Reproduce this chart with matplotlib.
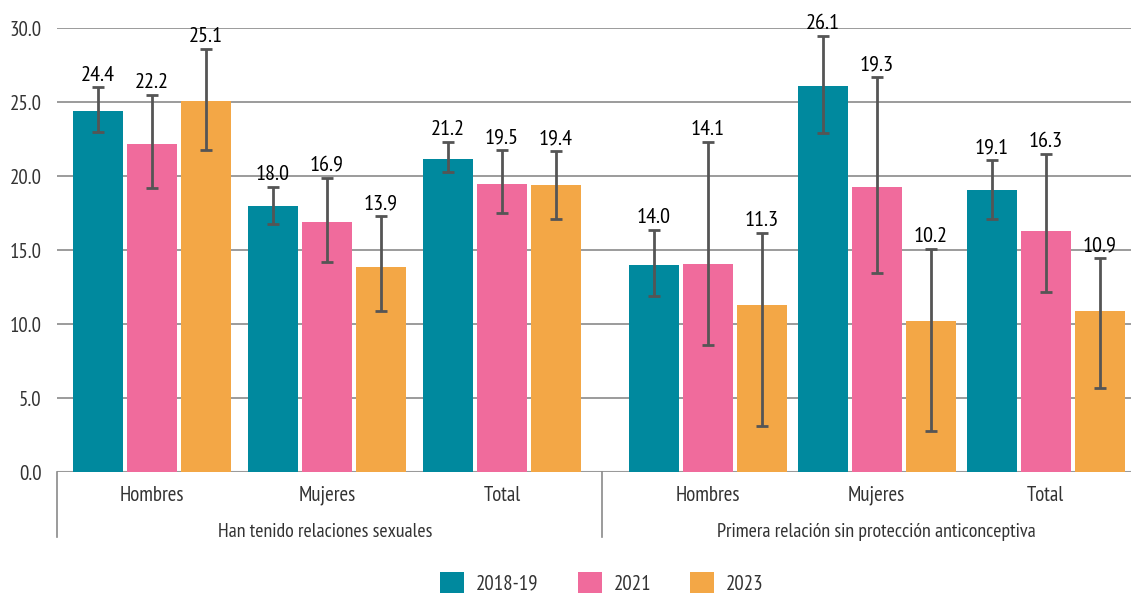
import matplotlib
matplotlib.use("Agg")
import matplotlib.pyplot as plt
from matplotlib.lines import Line2D
from matplotlib.patches import Patch
import numpy as np

# ---------------- data ----------------
categories = ["Hombres", "Mujeres", "Total"]
groups = ["Han tenido relaciones sexuales",
          "Primera relación sin protección anticonceptiva"]
series = ["2018-19", "2021", "2023"]

values_2018 = [24.4, 18.0, 21.2, 14.0, 26.1, 19.1]
values_2021 = [22.2, 16.9, 19.5, 14.1, 19.3, 16.3]
values_2023 = [25.1, 13.9, 19.4, 11.3, 10.2, 10.9]

low_2018 = [23.0, 16.8, 20.3, 11.9, 22.9, 17.1]
high_2018 = [26.0, 19.3, 22.3, 16.4, 29.5, 21.1]
low_2021 = [19.2, 14.2, 17.5, 8.6, 13.5, 12.2]
high_2021 = [25.5, 19.9, 21.8, 22.3, 26.7, 21.5]
low_2023 = [21.8, 10.9, 17.1, 3.1, 2.8, 5.7]
high_2023 = [28.6, 17.3, 21.7, 16.2, 15.1, 14.5]

y_ticks = [0, 5, 10, 15, 20, 25, 30]

# ---------------- style ----------------
colors = ["#00899E", "#F06B9C", "#F3A746"]
err_color = "#555555"
plt.rcParams["font.family"] = ["PT Sans Narrow", "DejaVu Sans"]

W, H = 1131, 594
fig = plt.figure(figsize=(W / 100, H / 100), dpi=100)
ax_left, ax_right, ax_top, ax_bottom = 57, 1131, 28.3, 472.3
ax = fig.add_axes([ax_left / W, 1 - ax_bottom / H,
                   (ax_right - ax_left) / W, (ax_bottom - ax_top) / H])

# layout (pixel-like x units)
group_start = [152, 707.5]
group_step = [175, 169]
bar_offset = 54
bar_width = 50

centers = []
for g in range(len(groups)):
    for c in range(len(categories)):
        centers.append(group_start[g] + c * group_step[g])
centers = np.array(centers)

vals = [values_2018, values_2021, values_2023]
lows = [low_2018, low_2021, low_2023]
highs = [high_2018, high_2021, high_2023]

for s in range(len(series)):
    x = centers + (s - 1) * bar_offset
    v = np.array(vals[s])
    lo = np.array(lows[s])
    hi = np.array(highs[s])
    ax.bar(x, v, width=bar_width, color=colors[s], zorder=2)
    ax.errorbar(x, v, yerr=[v - lo, hi - v], fmt="none", ecolor=err_color,
                elinewidth=2, capsize=4.5, capthick=2, zorder=3)
    for xi, vi, hii in zip(x, v, hi):
        ax.annotate(f"{vi:.1f}", (xi, hii), xytext=(0, 2),
                    textcoords="offset points", ha="center", va="bottom",
                    fontsize=16, color="#000000")

ax.set_xlim(ax_left, ax_right)
ax.set_ylim(0, 30)
ax.set_yticks(y_ticks)
ax.set_yticklabels([f"{t:.1f}" for t in y_ticks])
ax.set_xticks([])
ax.tick_params(axis="y", length=0, pad=11, labelsize=15, labelcolor="#333333")
for sp in ax.spines.values():
    sp.set_visible(False)
ax.yaxis.grid(True, color="#8a8a8a", linewidth=1.2, zorder=0)
ax.set_axisbelow(True)
ax.axhline(0, color="#9a9a9a", linewidth=1.5, zorder=1)

# category labels
for i, cx in enumerate(centers):
    ax.annotate(categories[i % 3], (cx, 0), xycoords=("data", "axes fraction"),
                xytext=(0, -16.5), textcoords="offset points", ha="center",
                va="center", fontsize=15, color="#333333")

# group labels
group_centers = [325, 876]
for g, gc in enumerate(group_centers):
    ax.annotate(groups[g], (gc, 0), xycoords=("data", "axes fraction"),
                xytext=(0, -43), textcoords="offset points", ha="center",
                va="center", fontsize=14.4, color="#333333")

# separator lines
for xs in [57, 602]:
    fig.add_artist(Line2D([xs / W, xs / W], [1 - 472.3 / H, 1 - 537 / H],
                          color="#8a8a8a", linewidth=1.2))

# legend
handles = [Patch(facecolor=c, edgecolor="none") for c in colors]
leg = fig.legend(handles, series, loc="center", bbox_to_anchor=(602 / W, 1 - 583 / H),
                 ncol=3, frameon=False, fontsize=15, handlelength=1.15,
                 handleheight=1.15, handletextpad=0.55, columnspacing=1.9)
for t in leg.get_texts():
    t.set_color("#333333")

fig.savefig("out.png", dpi=100)
